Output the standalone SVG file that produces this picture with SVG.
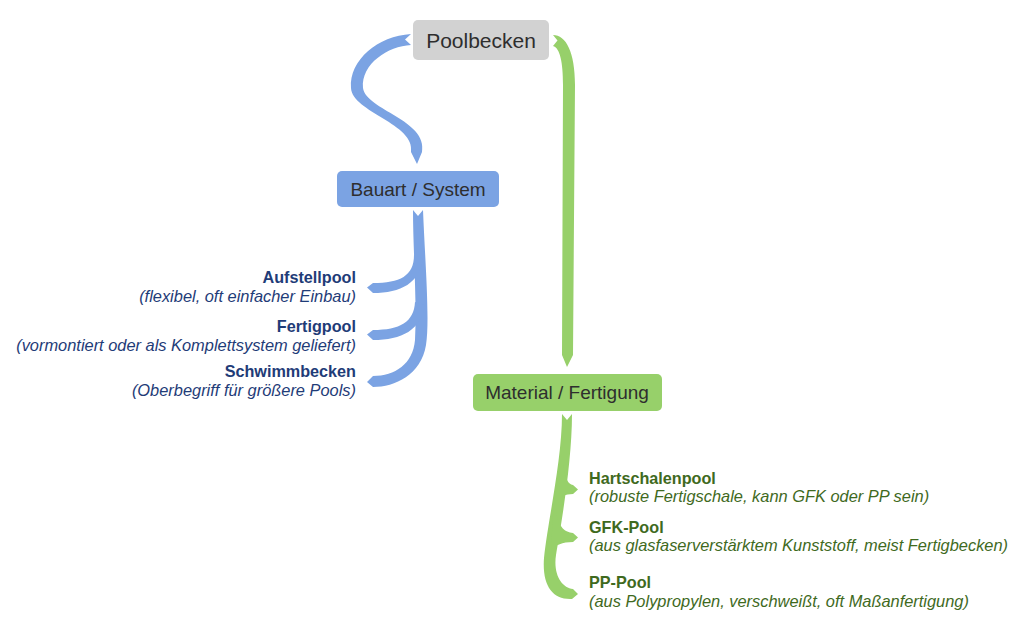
<svg xmlns="http://www.w3.org/2000/svg" width="1024" height="641" viewBox="0 0 1024 641">
<style>
.blue{fill:#7ba3e3}
.green{fill:#97d06a}
.nt{font-family:"Liberation Sans",Arial,sans-serif;fill:#2e2e2e;text-anchor:middle}
.bl{font-family:"Liberation Sans",Arial,sans-serif;font-size:16.2px;fill:#1f3c78;text-anchor:end}
.gl{font-family:"Liberation Sans",Arial,sans-serif;font-size:16.2px;fill:#3f6a1e}
.b{font-weight:bold}
.i{font-style:italic;font-size:16.4px}
</style>
<rect width="1024" height="641" fill="#ffffff"/>
<g id="connectors">
  <path class="blue" d="M411,34 L405,39.5 L411,45 C388,46 361,64 363,88 C366,110 428,120 422,152 L417,164 L411,152 C416,124 352,112 351,88 C349,60 378,36 411,34 Z"/>
  <path class="green" d="M553,35 L557.5,40.5 L553,46 C560,48 563,62 563,85 L562,355 L567,367 L573,355 L575,85 C575,52 566,35 553,35 Z"/>
  <path class="blue" d="M413,210 L418,216 L423,210 C425,260 430,320 426,345 C421,375 395,387 373,387 L367,382 L373,376 C395,376 413,364 415,340 C417,300 413,250 413,210 Z"/>
  <path class="blue" d="M414,255 C414,276 400,283 373,283 L367,287.5 L373,293 C401,293 420,283 423,258 Z"/>
  <path class="blue" d="M415,302 C414,322 400,330 373,330 L367,334.5 L373,340 C402,340 421,330 425,305 Z"/>
  <path class="green" d="M562,414 L567,420 L572,414 C572,460 562,520 556,555 C553,575 562,588 573,589 L578,594 L572,599 C552,600 542,585 544,558 C548,520 562,460 562,414 Z"/>
  <path class="green" d="M563,465 C566,480 568,484 573,485 L578,489.5 L573,494 C565,494 561,497 559,500 L560,468 Z"/>
  <path class="green" d="M556,512 C559,528 565,532 573,533 L578,537.5 L573,542 C562,542 556,545 551,550 L553,515 Z"/>
</g>
<g id="poolbecken">
  <rect x="413" y="20" width="136" height="40" rx="5" fill="#d2d2d2"/>
  <text class="nt" x="481" y="47.5" font-size="21">Poolbecken</text>
</g>
<g id="bauart">
  <rect x="337" y="171" width="162" height="36" rx="5" fill="#7ba3e3"/>
  <text class="nt" x="418" y="195.5" font-size="19">Bauart / System</text>
</g>
<g id="material">
  <rect x="473" y="374" width="189" height="37" rx="5" fill="#97d06a"/>
  <text class="nt" x="567" y="398.5" font-size="19">Material / Fertigung</text>
</g>
<g id="aufstellpool">
  <text class="bl b" x="356" y="283">Aufstellpool</text>
  <text class="bl i" x="356" y="302">(flexibel, oft einfacher Einbau)</text>
</g>
<g id="fertigpool">
  <text class="bl b" x="356" y="332">Fertigpool</text>
  <text class="bl i" x="356" y="351">(vormontiert oder als Komplettsystem geliefert)</text>
</g>
<g id="schwimmbecken">
  <text class="bl b" x="356" y="377">Schwimmbecken</text>
  <text class="bl i" x="356" y="396">(Oberbegriff für größere Pools)</text>
</g>
<g id="hartschalenpool">
  <text class="gl b" x="589" y="484">Hartschalenpool</text>
  <text class="gl i" x="589" y="502">(robuste Fertigschale, kann GFK oder PP sein)</text>
</g>
<g id="gfkpool">
  <text class="gl b" x="589" y="533">GFK-Pool</text>
  <text class="gl i" x="589" y="551">(aus glasfaserverstärktem Kunststoff, meist Fertigbecken)</text>
</g>
<g id="pppool">
  <text class="gl b" x="589" y="588">PP-Pool</text>
  <text class="gl i" x="589" y="607">(aus Polypropylen, verschweißt, oft Maßanfertigung)</text>
</g>
</svg>
